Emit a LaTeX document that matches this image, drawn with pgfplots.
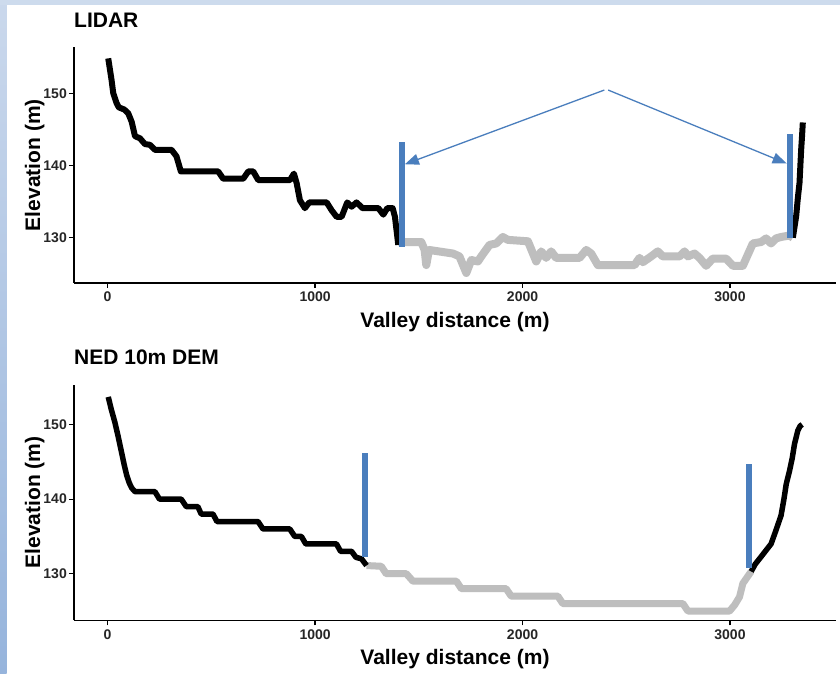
\documentclass[border=0pt]{standalone}
\usepackage{fontspec}
\setmainfont{Liberation Sans}
\usepackage{pgfplots}
\pgfplotsset{compat=1.18}
\usetikzlibrary{arrows.meta}

\definecolor{barblue}{RGB}{74,126,189}
\definecolor{profgray}{RGB}{190,190,190}
\definecolor{bgtop}{RGB}{205,219,237}
\definecolor{bgleftA}{RGB}{202,216,236}
\definecolor{bgleftB}{RGB}{150,180,220}

\pgfplotsset{
  profile/.style={
    scale only axis, width=762pt, height=235.7pt,
    xmin=-162, xmax=3511,
    axis lines=left,
    axis line style={-, line width=1.4pt, black},
    tick align=outside, major tick length=5pt,
    tick style={line width=1.2pt, black},
    xtick={0,1000,2000,3000}, ytick={130,140,150},
    /pgf/number format/assume math mode=true,
    /pgf/number format/1000 sep={},
    tick label style={font=\fontsize{14}{16}\selectfont\bfseries, text=black!85},
    xticklabel style={anchor=north, inner sep=0pt, yshift=-4pt},
    yticklabel style={anchor=east, inner sep=0pt, xshift=-2pt},
    xlabel={Valley distance (m)}, ylabel={Elevation (m)},
    label style={font=\fontsize{21}{25}\selectfont\bfseries},
    xlabel style={at={(axis description cs:0.5,-0.1867)}, anchor=base},
    ylabel style={at={(axis description cs:-0.0446,0.5)}, anchor=base},
    title style={at={(axis description cs:0,1.0594)}, anchor=base west,
      font=\fontsize{21}{25}\selectfont\bfseries, inner sep=0pt},
    clip=false, no markers,
  },
  hill/.style={black, line width=6pt, line join=round, line cap=butt},
  floor/.style={profgray, line width=8pt, line join=round, line cap=butt},
  edge/.style={barblue, line width=6pt, line cap=butt},
  pointer/.style={barblue, line width=1.3pt, -{Triangle[length=14pt,width=11pt]}},
}

\begin{document}
\begin{tikzpicture}[x=1pt,y=1pt]
\useasboundingbox (0,0) rectangle (840,674);
\fill[white] (0,0) rectangle (840,674);
\shade[top color=bgleftA, bottom color=bgleftB] (0,0) rectangle (6.5,674);
\fill[bgtop] (0,669) rectangle (840,674);

% ---------------- LIDAR profile ----------------
\begin{axis}[profile, at={(74pt,391pt)}, anchor=south west,
  ymin=123.71, ymax=156.44, title={LIDAR}]
% valley floor
\addplot[floor] coordinates {
(1401,129.4) (1512,129.4) (1528,128.3) (1536,126.2) (1549,128.3) (1665,127.8)
(1696,127.4) (1729,125.1) (1753,126.9) (1785,126.7) (1801,127.4) (1841,129.0)
(1873,129.2) (1905,130.1) (1929,129.7) (2026,129.5) (2066,126.7) (2090,128.1)
(2114,127.2) (2138,128.1) (2162,127.2) (2275,127.2) (2307,128.3) (2331,127.8)
(2363,126.2) (2540,126.2) (2564,127.2) (2580,126.6) (2620,127.4) (2652,128.1)
(2676,127.4) (2757,127.4) (2781,128.1) (2797,127.4) (2829,127.8) (2853,127.2)
(2885,126.1) (2917,127.1) (2981,127.1) (3014,126.1) (3062,126.1) (3110,129.2)
(3150,129.4) (3174,129.9) (3198,129.2) (3222,129.9) (3246,130.1) (3287,130.3)
(3303,130.0)
};
% left valley wall
\addplot[hill] coordinates {
(3,154.9) (19,151.9) (27,150.1) (43,148.7) (54,148.1) (80,147.8) (99,147.3)
(116,146.1) (132,144.1) (156,143.8) (180,143.0) (204,142.9) (228,142.2)
(308,142.2) (332,141.3) (353,139.2) (533,139.2) (557,138.2) (654,138.2)
(678,139.2) (702,139.2) (726,138.0) (879,138.0) (898,138.9) (911,137.6)
(927,135.2) (951,134.1) (972,134.9) (1056,134.9) (1080,133.8) (1104,132.9)
(1128,132.9) (1155,134.9) (1176,134.3) (1200,134.9) (1229,134.1) (1305,134.1)
(1329,133.2) (1348,134.1) (1374,134.1) (1385,132.9) (1401,129.0)
};
% right valley wall
\addplot[hill] coordinates {
(3303,130.0) (3311,131.5) (3319,133.0) (3327,135.5) (3335,137.6) (3343,142.2)
(3347,144.0) (3351,146.0)
};
% valley margins
\addplot[edge] coordinates {(1417,128.75) (1417,143.3)};
\addplot[edge] coordinates {(3291,129.9) (3291,144.4)};
% pointers
\addplot[pointer] coordinates {(2394,150.5) (1433,140.2)};
\addplot[pointer] coordinates {(2413,150.5) (3273,140.3)};
\end{axis}

% ---------------- NED 10 m DEM profile ----------------
\begin{axis}[profile, at={(74pt,53.7pt)}, anchor=south west,
  ymin=123.76, ymax=155.35, title={NED 10m DEM}]
\addplot[floor, line width=7pt] coordinates {
(1248,131.1) (1319,131.0) (1343,130.0) (1440,130.0) (1472,129.0) (1681,129.0)
(1705,128.0) (1921,128.0) (1945,127.0) (2170,127.0) (2194,126.0) (2773,126.0)
(2797,125.0) (2998,125.0) (3022,125.8) (3046,126.9) (3062,128.7) (3102,130.3)
};
\addplot[hill, line width=5.5pt] coordinates {
(3,153.7) (18,152.0) (35,150.3) (50,148.5) (67,146.3) (80,144.6) (92,143.2)
(104,142.2) (116,141.5) (132,141.0) (228,141.0) (250,140.0) (355,140.0)
(379,139.0) (435,139.0) (451,138.0) (508,138.0) (527,137.0) (725,137.0)
(749,136.0) (878,136.0) (902,135.0) (934,135.0) (955,134.0) (1103,134.0)
(1123,133.0) (1176,133.0) (1197,132.2) (1224,132.0) (1248,131.1)
};
\addplot[hill, line width=5.5pt] coordinates {
(3102,130.3) (3122,131.3) (3142,132.0) (3170,133.0) (3198,134.0) (3220,135.7)
(3246,137.8) (3260,140.0) (3271,142.0) (3287,143.8) (3300,145.5) (3311,147.4)
(3327,149.2) (3338,149.8) (3348,150.0)
};
\addplot[edge] coordinates {(1241,132.2) (1241,146.2)};
\addplot[edge] coordinates {(3091,130.8) (3091,144.7)};
\end{axis}
\end{tikzpicture}
\end{document}
